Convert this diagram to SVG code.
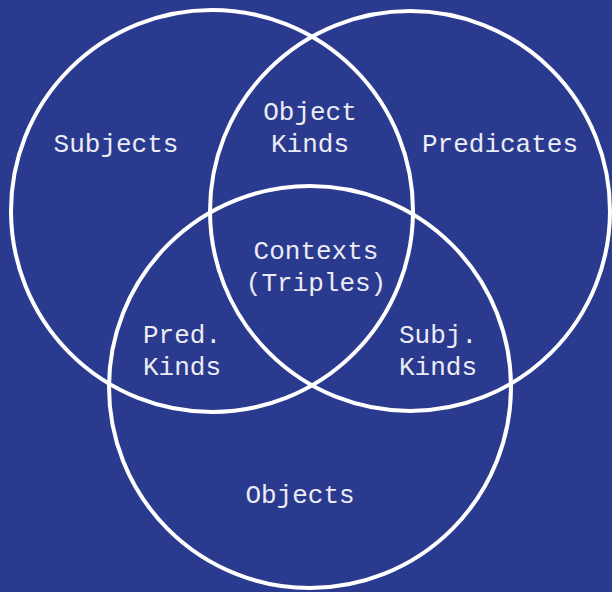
<svg xmlns="http://www.w3.org/2000/svg" width="612" height="592" viewBox="0 0 612 592">
<style>
.c{fill:none;stroke:#ffffff;stroke-width:4}
.t{font-family:"Liberation Mono","Courier New",monospace;font-size:26px;fill:#ececf4;text-anchor:middle}
</style>
<rect width="612" height="592" fill="#2a3a8e"/>
<g id="connectors"></g>
<g id="subjects"><circle class="c" cx="212" cy="211" r="201"/><text class="t" x="116" y="152">Subjects</text></g>
<g id="predicates"><circle class="c" cx="410" cy="211" r="200"/><text class="t" x="500" y="152">Predicates</text></g>
<g id="objects"><circle class="c" cx="310" cy="387" r="201"/><text class="t" x="300" y="503">Objects</text></g>
<g id="object-kinds"><text class="t" x="310" y="120">Object</text><text class="t" x="310" y="152">Kinds</text></g>
<g id="contexts"><text class="t" x="316" y="259">Contexts</text><text class="t" x="316" y="291">(Triples)</text></g>
<g id="pred-kinds"><text class="t" x="182" y="343">Pred.</text><text class="t" x="182" y="375">Kinds</text></g>
<g id="subj-kinds"><text class="t" x="438" y="343">Subj.</text><text class="t" x="438" y="375">Kinds</text></g>
</svg>
